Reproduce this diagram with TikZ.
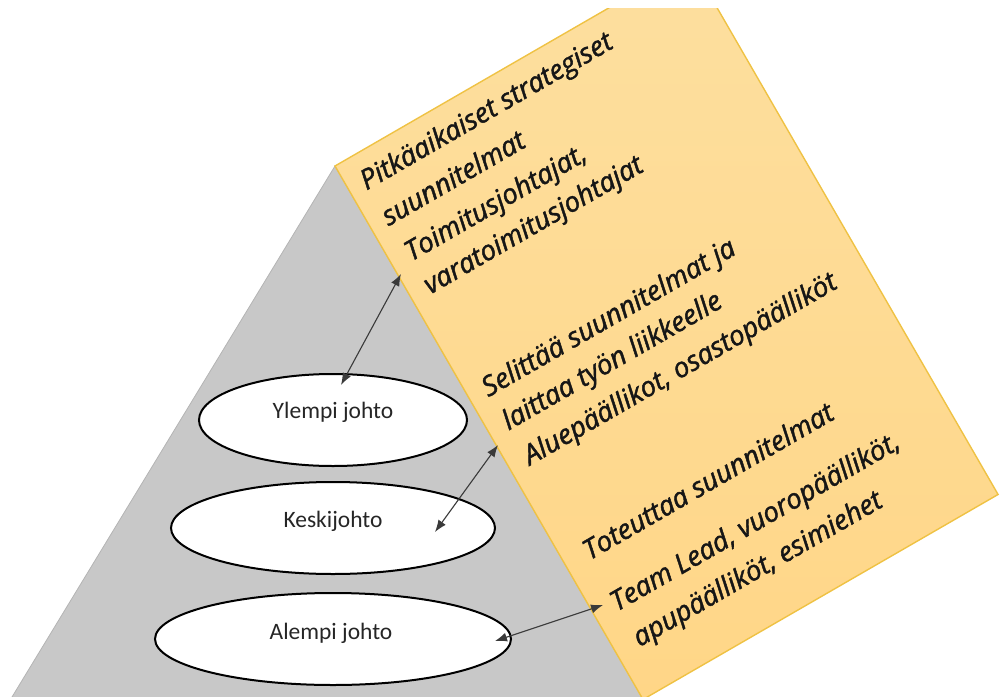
\documentclass[tikz,border=0pt]{standalone}
\usepackage{fontspec}
\usetikzlibrary{arrows.meta,shapes.geometric}
\newfontfamily\levelfont{Carlito}
\newfontfamily\notefont[ItalicFeatures={FakeBold=1.6}]{Open Sans}
\definecolor{pyrgrey}{HTML}{C8C8C8}
\definecolor{pyredge}{HTML}{B4B4B4}
\definecolor{notetop}{HTML}{FDDF9F}
\definecolor{notebottom}{HTML}{FFD687}
\definecolor{noteedge}{HTML}{EFC244}
\definecolor{inktext}{HTML}{161616}
\definecolor{arrowink}{HTML}{3A3A3A}
\tikzset{
  pyramid/.style={fill=pyrgrey, draw=pyredge, line width=0.8pt},
  notebox/.style={top color=notetop, bottom color=notebottom, draw=noteedge, line width=1.4pt},
  notetext/.style={inner sep=0pt, anchor=base west, rotate=30, text=inktext,
    font=\notefont\itshape\fontsize{27.5}{33}\selectfont},
  levelbox/.style={ellipse, draw=black, line width=2pt, fill=white, inner sep=0pt},
  leveltext/.style={inner sep=0pt, anchor=base, text=black!85,
    font=\levelfont\fontsize{23.5}{28}\selectfont},
  link/.style={draw=arrowink, line width=1.1pt,
    {Latex[length=12pt,width=9pt]}-{Latex[length=12pt,width=9pt]}}
}
\begin{document}
\begin{tikzpicture}[x=1pt,y=-1pt]
\useasboundingbox (0,0) rectangle (1001,696);
\begin{scope}
  \clip (0,8) rectangle (1001,696);
  % grey pyramid, its right flank lies under the note panel
  \path[pyramid] (335,166) -- (-2,720) -- (655,720) -- cycle;
  % tilted note panel with the descriptions
  \begin{scope}[shift={(335,166)}, rotate=30]
    \path[notebox] (0,0) rectangle (410,616);
    \node[notetext] (n1) at (15,37)  {Pitkäaikaiset strategiset};
    \node[notetext] (n2) at (16,79)  {suunnitelmat};
    \node[notetext] (n3) at (18,121) {Toimitusjohtajat,};
    \node[notetext] (n4) at (18,159) {varatoimitusjohtajat};
    \node[notetext] (m1) at (17,277) {Selittää suunnitelmat ja};
    \node[notetext] (m2) at (18,316) {laittaa työn liikkeelle};
    \node[notetext] (m3) at (19,357) {Aluepäällikot, osastopäälliköt};
    \node[notetext] (k1) at (23,469) {Toteuttaa suunnitelmat};
    \node[notetext] (k2) at (21,527) {Team Lead, vuoropäälliköt,};
    \node[notetext] (k3) at (23,569) {apupäälliköt, esimiehet};
  \end{scope}
\end{scope}
% management levels
\node[levelbox, minimum width=268pt, minimum height=92pt] (top) at (333,420) {};
\node[levelbox, minimum width=324pt, minimum height=92pt] (mid) at (333,528) {};
\node[levelbox, minimum width=356pt, minimum height=92pt] (low) at (333,639) {};
\node[leveltext] (toplabel) at (333,418) {Ylempi johto};
\node[leveltext] (midlabel) at (333,527) {Keskijohto};
\node[leveltext] (lowlabel) at (331,639) {Alempi johto};
% link ends
\coordinate (topin) at (341,385);
\coordinate (topout) at (401,274);
\coordinate (midin) at (435,532);
\coordinate (midout) at (498,445);
\coordinate (lowin) at (495,641);
\coordinate (lowout) at (603,605);
\draw[link] (topin) -- (topout);
\draw[link] (midin) -- (midout);
\draw[link] (lowin) -- (lowout);
\end{tikzpicture}
\end{document}
